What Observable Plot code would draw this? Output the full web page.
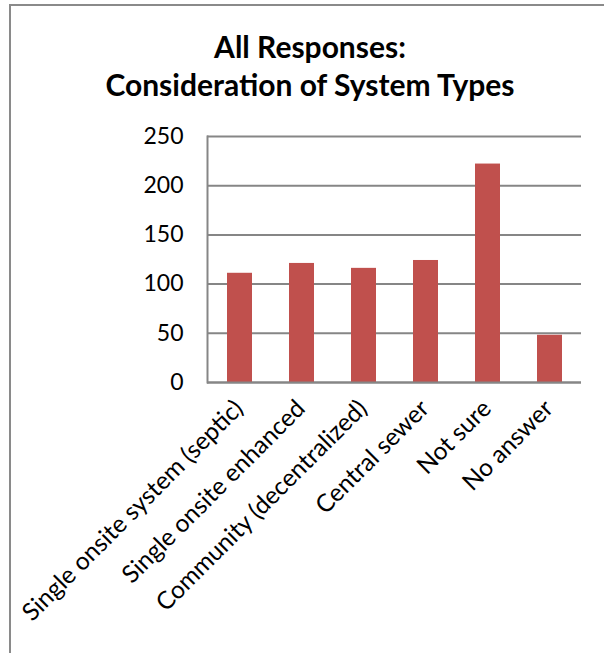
<!DOCTYPE html>
<html>
<head>
<meta charset="utf-8">
<script src="https://cdn.jsdelivr.net/npm/d3@7"></script>
<script src="https://cdn.jsdelivr.net/npm/@observablehq/plot@0.6"></script>
<style>
  html, body { margin: 0; padding: 0; background: #fff; }
  #wrap { position: relative; width: 604px; height: 653px; overflow: hidden; font-family: Lato, "Open Sans", sans-serif; }
  #box { position: absolute; left: 9px; top: 4px; width: 700px; height: 800px; border-left: 2px solid #8a8a8a; border-top: 2px solid #8a8a8a; }
  #title { position: absolute; left: 0; width: 620px; top: 27px; text-align: center; font-weight: bold; font-size: 30px; line-height: 38px; color: #000; }
  #chart { position: absolute; left: 0; top: 0; }
</style>
</head>
<body>
<div id="wrap">
  <div id="box"></div>
  <div id="chart"></div>
  <div id="title">All Responses:<br>Consideration of System Types</div>
</div>
<script>
const categories = [
  "Single onsite system (septic)",
  "Single onsite enhanced",
  "Community (decentralized)",
  "Central sewer",
  "Not sure",
  "No answer"
];
const responses = [111, 121, 116, 124, 222, 48];
const yTicks = [0, 50, 100, 150, 200, 250];

const data = categories.map((c, i) => ({category: c, value: responses[i]}));

const chart = Plot.plot({
  width: 604,
  height: 653,
  marginLeft: 207,
  marginRight: 23,
  marginTop: 136,
  marginBottom: 271,
  style: { fontFamily: "Lato, 'Open Sans', sans-serif", fontSize: "24px", color: "#000", background: "transparent" },
  x: { domain: categories, paddingInner: 0.6, paddingOuter: 0.3, label: null },
  y: { domain: [0, 250], ticks: yTicks, label: null },
  marks: [
    Plot.gridY(yTicks, { stroke: "#868686", strokeOpacity: 1, strokeWidth: 2 }),
    Plot.barY(data, { x: "category", y: "value", fill: "#c0504d" }),
    Plot.frame({ anchor: "left", stroke: "#868686", strokeWidth: 2 }),
    Plot.ruleY([0], { stroke: "#868686", strokeWidth: 2 }),
    Plot.axisY({ ticks: yTicks, tickSize: 0, tickPadding: 24, label: null, fontSize: 23 }),
    Plot.axisX({ tickSize: 0, tickRotate: -45, tickPadding: 22, dx: -1, label: null, fontSize: 24.5 })
  ]
});
document.getElementById("chart").appendChild(chart);
</script>
</body>
</html>
